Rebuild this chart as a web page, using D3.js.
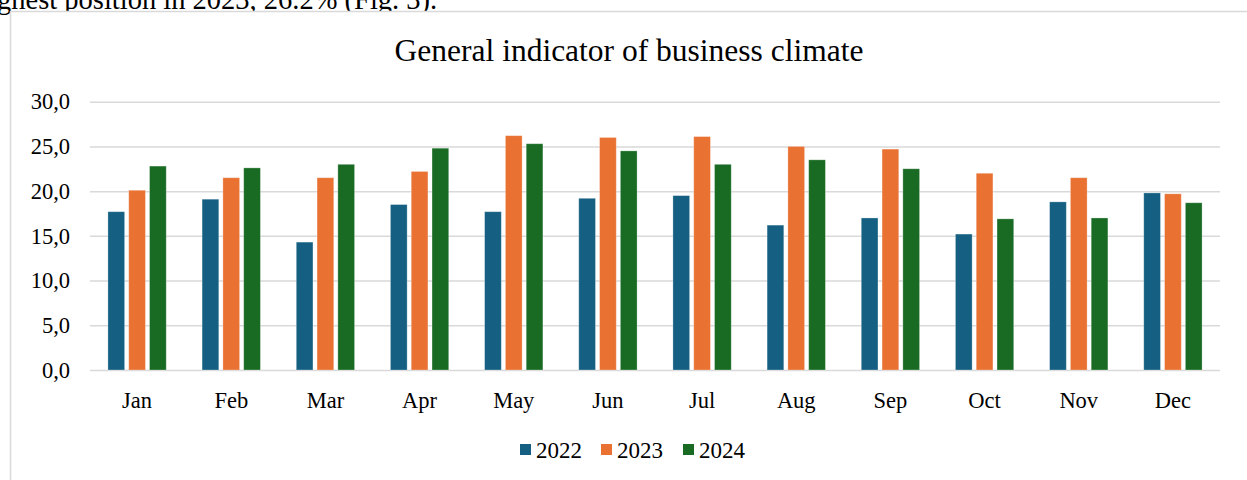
<!DOCTYPE html>
<html>
<head>
<meta charset="utf-8">
<script src="https://cdn.jsdelivr.net/npm/d3@7"></script>
<style>
  html, body { margin: 0; padding: 0; background: #fff; }
  svg { display: block; }
  text { font-family: "Liberation Serif", "Times New Roman", serif; fill: #000; }
</style>
</head>
<body>
<svg id="chart" width="1247" height="480"></svg>
<script>
const months = ["Jan","Feb","Mar","Apr","May","Jun","Jul","Aug","Sep","Oct","Nov","Dec"];
const seriesNames = ["2022","2023","2024"];
const values2022 = [17.7, 19.1, 14.3, 18.5, 17.7, 19.2, 19.5, 16.2, 17.0, 15.2, 18.8, 19.8];
const values2023 = [20.1, 21.5, 21.5, 22.2, 26.2, 26.0, 26.1, 25.0, 24.7, 22.0, 21.5, 19.7];
const values2024 = [22.8, 22.6, 23.0, 24.8, 25.3, 24.5, 23.0, 23.5, 22.5, 16.9, 17.0, 18.7];
const yTicks = [0, 5, 10, 15, 20, 25, 30];
const colors = ["#156082", "#E97132", "#196B24"];

const allSeries = [values2022, values2023, values2024];
const svg = d3.select("#chart");

// text above the chart (cut-off paragraph line of the source document)
svg.append("text").attr("x", -3).attr("y", 9)
  .style("font-size", "28.5px")
  .text("ghest position in 2023, 26.2% (Fig. 3).");

// chart border
svg.append("rect").attr("x", 10.5).attr("y", 11.5).attr("width", 1260).attr("height", 500)
  .attr("fill", "#fff").attr("stroke", "#d9d9d9").attr("stroke-width", 1.5);

const plot = { left: 90, right: 1220, top: 101.7, bottom: 370 };

const x = d3.scaleBand().domain(months).range([plot.left, plot.right]).paddingInner(0).paddingOuter(0);
const y = d3.scaleLinear().domain([0, 30]).range([plot.bottom, plot.top]);

// gridlines + y tick labels
const yAxis = d3.axisLeft(y).tickValues(yTicks).tickSize(-(plot.right - plot.left))
  .tickFormat(d => d3.format(".1f")(d).replace(".", ","));
const gy = svg.append("g").attr("transform", `translate(${plot.left},0)`).call(yAxis);
gy.select(".domain").remove();
gy.selectAll(".tick line").attr("stroke", "#d9d9d9").attr("stroke-width", 1.5);
gy.selectAll(".tick text").attr("x", -20).style("font-size", "22.5px")
  .style("font-family", '"Liberation Serif", serif').attr("fill", "#000");

// bars
const barW = 16.7, step = 20.8;
const groups = svg.append("g");
allSeries.forEach((vals, si) => {
  groups.selectAll(null).data(vals).enter().append("rect")
    .attr("x", (d, i) => x(months[i]) + x.bandwidth() / 2 - barW / 2 + (si - 1) * step)
    .attr("y", d => y(d))
    .attr("width", barW)
    .attr("height", d => y(0) - y(d))
    .attr("fill", colors[si])
    .attr("stroke", "#ffffff").attr("stroke-opacity", 0.35).attr("stroke-width", 0.8);
});

// x axis labels
const xAxis = d3.axisBottom(x).tickSize(0).tickPadding(0);
const gx = svg.append("g").attr("transform", `translate(0,${plot.bottom})`).call(xAxis);
gx.select(".domain").remove();
gx.selectAll(".tick text").attr("y", 22).style("font-size", "22.5px")
  .style("font-family", '"Liberation Serif", serif').attr("fill", "#000");

// title
svg.append("text").attr("x", 629).attr("y", 61).attr("text-anchor", "middle")
  .style("font-size", "31.5px").text("General indicator of business climate");

// legend
const legend = svg.append("g");
const legPos = [520, 601, 683];
seriesNames.forEach((name, i) => {
  const g = legend.append("g").attr("transform", `translate(${legPos[i]},0)`);
  g.append("rect").attr("x", 0).attr("y", 444).attr("width", 11).attr("height", 11).attr("fill", colors[i]);
  g.append("text").attr("x", 16).attr("y", 458).style("font-size", "23px").text(name);
});
</script>
</body>
</html>
